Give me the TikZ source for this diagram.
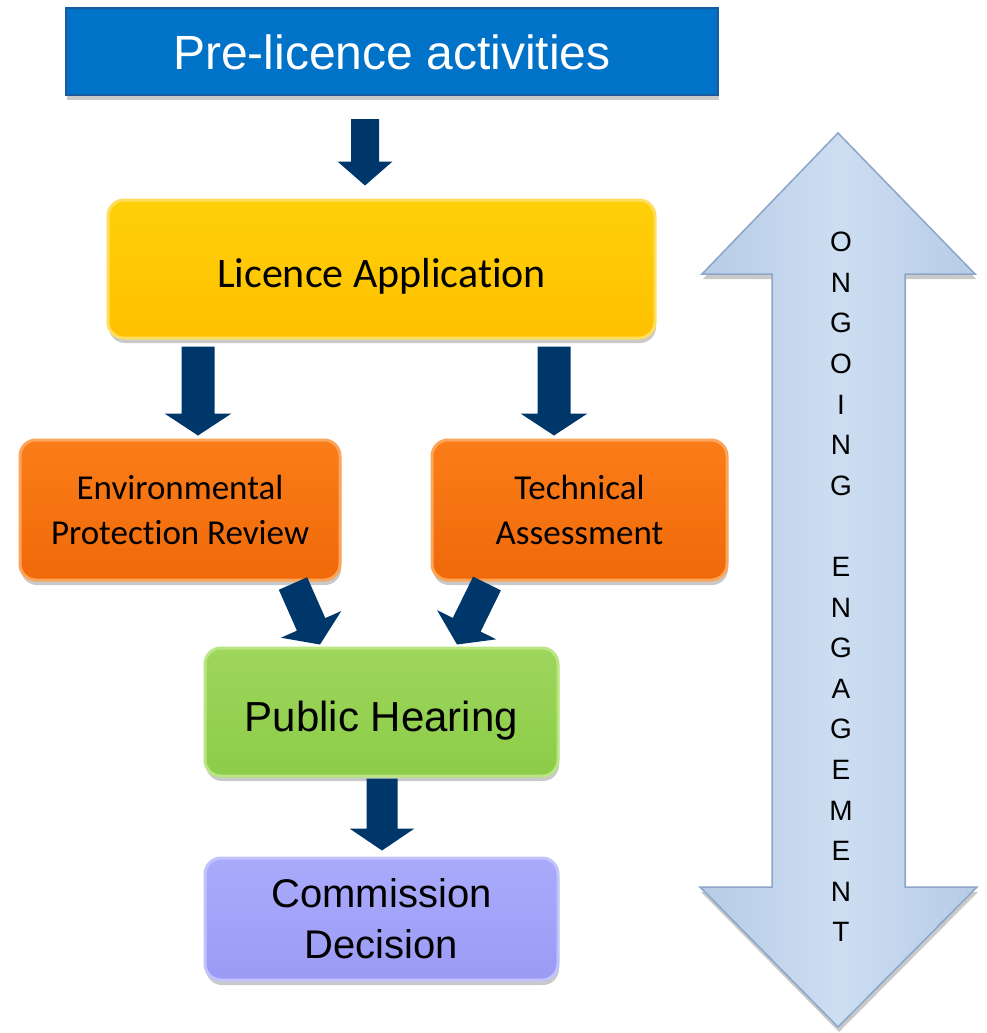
\documentclass[tikz,border=0pt]{standalone}
\usepackage{fontspec}
\newfontfamily\arialf{Liberation Sans}
\newfontfamily\calf[Ligatures=NoCommon]{Carlito}
\usetikzlibrary{calc,shadows}
\definecolor{navy}{RGB}{0,55,107}
\definecolor{preblue}{RGB}{0,115,200}
\definecolor{preedge}{RGB}{25,90,155}
\definecolor{yelT}{RGB}{255,208,10}
\definecolor{yelB}{RGB}{255,192,0}
\definecolor{yelE}{RGB}{255,222,95}
\definecolor{orgT}{RGB}{250,125,25}
\definecolor{orgB}{RGB}{240,105,10}
\definecolor{orgE}{RGB}{252,165,90}
\definecolor{grnT}{RGB}{158,214,92}
\definecolor{grnB}{RGB}{140,204,72}
\definecolor{grnE}{RGB}{185,230,130}
\definecolor{lavT}{RGB}{170,170,252}
\definecolor{lavB}{RGB}{155,155,245}
\definecolor{lavE}{RGB}{195,195,252}
\definecolor{engF}{RGB}{182,203,230}
\definecolor{engL}{RGB}{205,222,242}
\definecolor{engE}{RGB}{140,165,200}
% #1 start, #2 tip, #3 shaft half width, #4 head half width, #5 head length
\newcommand\blockarrow[5]{%
  \coordinate (hb) at ($(#2)!#5!(#1)$);
  \fill[navy] ($(#1)!#3!90:(#2)$) -- ($(hb)!#3!90:(#2)$) -- ($(hb)!#4!90:(#2)$)
     -- (#2) -- ($(hb)!#4!-90:(#2)$) -- ($(hb)!#3!-90:(#2)$) -- ($(#1)!#3!-90:(#2)$) -- cycle;
}
\begin{document}
\begin{tikzpicture}[x=1pt,y=-1pt,
  shadowed/.style={drop shadow={shadow xshift=1pt, shadow yshift=-5pt, opacity=0.3, fill=black!70}},
  box/.style={rounded corners=16pt, line width=3pt, inner sep=0pt, align=center, shadowed},
  prebox/.style={draw=preedge, fill=preblue, line width=2pt, inner sep=0pt, text=white,
     font=\arialf\fontsize{48}{58}\selectfont, text height=37pt, text depth=0pt, shadowed},
  yelbox/.style={box, draw=yelE, top color=yelT, bottom color=yelB},
  orgbox/.style={box, draw=orgE, top color=orgT, bottom color=orgB,
     font=\calf\fontsize{35}{45}\selectfont},
  grnbox/.style={box, draw=grnE, top color=grnT, bottom color=grnB},
  lavbox/.style={box, draw=lavE, top color=lavT, bottom color=lavB,
     font=\arialf\fontsize{40}{51}\selectfont},
]
\useasboundingbox (0,0) rectangle (986,1033);

% big double arrow
\draw[engE, line width=1.5pt, line join=miter, left color=engF, right color=engF, middle color=engL, shadowed]
  (838,133) -- (975,274) -- (905,274) -- (905,887) -- (977,887) -- (838,1027)
  -- (700,887) -- (772,887) -- (772,274) -- (702,274) -- cycle;
\node[font=\arialf\fontsize{28}{40.6}\selectfont, align=center, inner sep=0pt] (eng) at (841,587)
  {O\\N\\G\\O\\I\\N\\G\\[40.6pt]E\\N\\G\\A\\G\\E\\M\\E\\N\\T};

% boxes
\node[prebox, minimum width=652pt, minimum height=87pt] (pre) at (392,51.5) {Pre-licence activities};
\node[yelbox, minimum width=547pt, minimum height=138pt, font=\calf\fontsize{42}{50}\selectfont,
      text height=36pt, text depth=0pt] (la) at (381.5,269) {Licence Application};
\node[orgbox, minimum width=320pt, minimum height=140pt] (epr) at (180,510) {Environmental\\Protection Review};
\node[orgbox, minimum width=295pt, minimum height=140pt] (ta) at (579.5,510) {Technical\\Assessment};
\node[grnbox, minimum width=353pt, minimum height=128pt, font=\arialf\fontsize{42}{50}\selectfont,
      text height=38pt, text depth=0pt] (ph) at (381.5,712) {Public Hearing};
\node[lavbox, minimum width=353pt, minimum height=122pt] (cd) at (381.5,919) {Commission\\Decision};

% connector end points
\coordinate (a0s) at ($(pre.south)+(-27,23)$);
\coordinate (a0t) at ($(la.north)+(-16.5,-13)$);
\coordinate (a1s) at ($(la.south)+(-183.5,7)$);
\coordinate (a1t) at ($(epr.north)+(18,-3)$);
\coordinate (a2s) at ($(la.south)+(172.5,7)$);
\coordinate (a2t) at ($(ta.north)+(-25.5,-3)$);
\coordinate (a3s) at ($(epr.south)+(113,2)$);
\coordinate (a3t) at ($(ph.north)+(-61.5,-2)$);
\coordinate (a4s) at ($(ta.south)+(-92.5,2)$);
\coordinate (a4t) at ($(ph.north)+(75.5,-2)$);
\coordinate (a5s) at ($(ph.south)+(0.5,1)$);
\coordinate (a5t) at ($(cd.north)+(0.5,-6)$);

\blockarrow{a0s}{a0t}{14pt}{27.5pt}{24pt}
\blockarrow{a1s}{a1t}{16.5pt}{33.5pt}{22pt}
\blockarrow{a2s}{a2t}{16.5pt}{33.5pt}{22pt}
\blockarrow{a3s}{a3t}{15.5pt}{33pt}{22pt}
\blockarrow{a4s}{a4t}{15.5pt}{33pt}{22pt}
\blockarrow{a5s}{a5t}{15.5pt}{32.5pt}{22pt}
\end{tikzpicture}
\end{document}
